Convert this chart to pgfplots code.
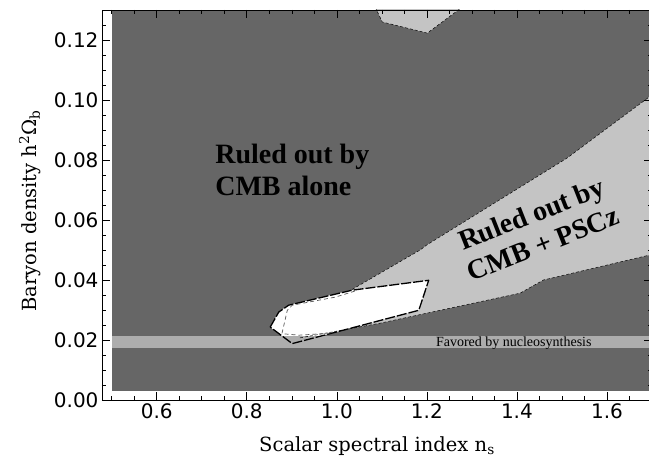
\documentclass[border=0pt]{standalone}
\usepackage{fontspec}
\setmainfont{Liberation Serif}
\newfontfamily\ticksfont{DejaVu Sans}
\newfontfamily\labelsfont{DejaVu Serif}
\usepackage{pgfplots}
\pgfplotsset{compat=1.18}

\definecolor{cmbout}{gray}{0.40}
\definecolor{psczout}{gray}{0.77}
\definecolor{bbn}{gray}{0.68}

\begin{document}
\begin{tikzpicture}
\useasboundingbox (-102pt,-62pt) rectangle (547pt,400pt);
\begin{axis}[
  scale only axis, width=550pt, height=390pt,
  xmin=0.4784, xmax=1.7, ymin=0, ymax=0.13,
  axis on top,
  xtick={0.6,0.8,1.0,1.2,1.4,1.6},
  ytick={0,0.02,0.04,0.06,0.08,0.10,0.12},
  minor xtick={0.5,0.55,0.65,0.7,0.75,0.85,0.9,0.95,1.05,1.1,1.15,1.25,1.3,1.35,1.45,1.5,1.55,1.65,1.7},
  minor ytick={0.005,0.01,0.015,0.025,0.03,0.035,0.045,0.05,0.055,0.065,0.07,0.075,0.085,0.09,0.095,0.105,0.11,0.115,0.125},
  major tick length=8pt, minor tick length=4pt,
  tick style={black, line width=0.6pt},
  axis line style={line width=0.8pt},
  x tick label style={/pgf/number format/.cd, fixed, fixed zerofill, precision=1, /tikz/.cd},
  y tick label style={/pgf/number format/.cd, fixed, fixed zerofill, precision=2, /tikz/.cd},
  /pgf/number format/assume math mode=true,
  ticklabel style={font=\ticksfont\fontsize{20}{24}\selectfont},
  xlabel={Scalar spectral index n\textsubscript{s}},
  ylabel={Baryon density h\textsuperscript{2}Ω\textsubscript{b}},
  label style={font=\labelsfont\fontsize{19.5}{23}\selectfont},
  xlabel style={at={(axis description cs:0.5,-0.118)}, anchor=center},
  ylabel style={at={(axis description cs:-0.131,0.485)}, anchor=center},
]
% region excluded by the CMB data alone
\addplot[fill=cmbout, draw=none] coordinates {
  (0.5,0.003) (1.7,0.003) (1.7,0.13) (0.5,0.13)} -- cycle;

% region excluded once PSCz is added
\addplot[fill=psczout, draw=none] coordinates {
  (1.7,0.1017) (1.511,0.0806) (1.2,0.0517) (1.185,0.0500) (1.03,0.0365)
  (0.893,0.0316) (0.871,0.0293) (0.852,0.0243) (0.901,0.0188) (0.918,0.0207)
  (1.096,0.0256) (1.407,0.0356) (1.459,0.0400) (1.7,0.0485)} -- cycle;
\addplot[fill=psczout, draw=none] coordinates {
  (1.085,0.131) (1.101,0.126) (1.201,0.1223) (1.279,0.131)} -- cycle;

% allowed region
\addplot[fill=white, draw=none] coordinates {
  (0.852,0.0243) (0.871,0.0293) (0.893,0.0316) (1.034,0.0366) (1.204,0.0399)
  (1.182,0.0299) (0.901,0.0188)} -- cycle;

% nucleosynthesis band
\addplot[fill=bbn, draw=none] coordinates {
  (0.5,0.0173) (1.7,0.0173) (1.7,0.0213) (0.5,0.0213)} -- cycle;

% contour outlines
\addplot[black, line width=0.5pt, dash pattern=on 3pt off 2pt] coordinates {
  (1.7,0.1017) (1.511,0.0806) (1.2,0.0517) (1.185,0.0500) (1.03,0.0365)};
\addplot[black, line width=0.5pt, dash pattern=on 3pt off 2pt] coordinates {
  (0.918,0.0207) (1.096,0.0256) (1.407,0.0356) (1.459,0.0400) (1.7,0.0485)};
\addplot[black, line width=0.5pt, dash pattern=on 3pt off 2pt] coordinates {
  (1.085,0.131) (1.101,0.126) (1.201,0.1223) (1.279,0.131)};
\addplot[black, line width=1.3pt, dash pattern=on 10pt off 2pt, line join=round] coordinates {
  (0.852,0.0243) (0.871,0.0293) (0.893,0.0316) (1.034,0.0366) (1.204,0.0399)
  (1.182,0.0299) (0.901,0.0188)} -- cycle;
\addplot[gray!70!black, line width=0.7pt, dash pattern=on 4pt off 3pt] coordinates {
  (1.04,0.0363) (0.997,0.0343) (0.901,0.0316) (0.890,0.0299) (0.878,0.0221)
  (0.916,0.0216) (0.967,0.0221) (0.992,0.0224)};

% annotations
\node[anchor=north west, align=left, inner sep=0pt,
      font=\bfseries\fontsize{28}{32}\selectfont]
  at (axis cs:0.7296,0.0853) {Ruled out by\\CMB alone};
\node[rotate=21.5, align=center, inner sep=0pt,
      font=\bfseries\fontsize{28}{32}\selectfont]
  at (axis cs:1.445,0.0571) {Ruled out by\\CMB + PSCz};
\node[inner sep=0pt, font=\fontsize{14}{16}\selectfont]
  at (axis cs:1.393,0.0190) {Favored by nucleosynthesis};
\end{axis}
\end{tikzpicture}
\end{document}
